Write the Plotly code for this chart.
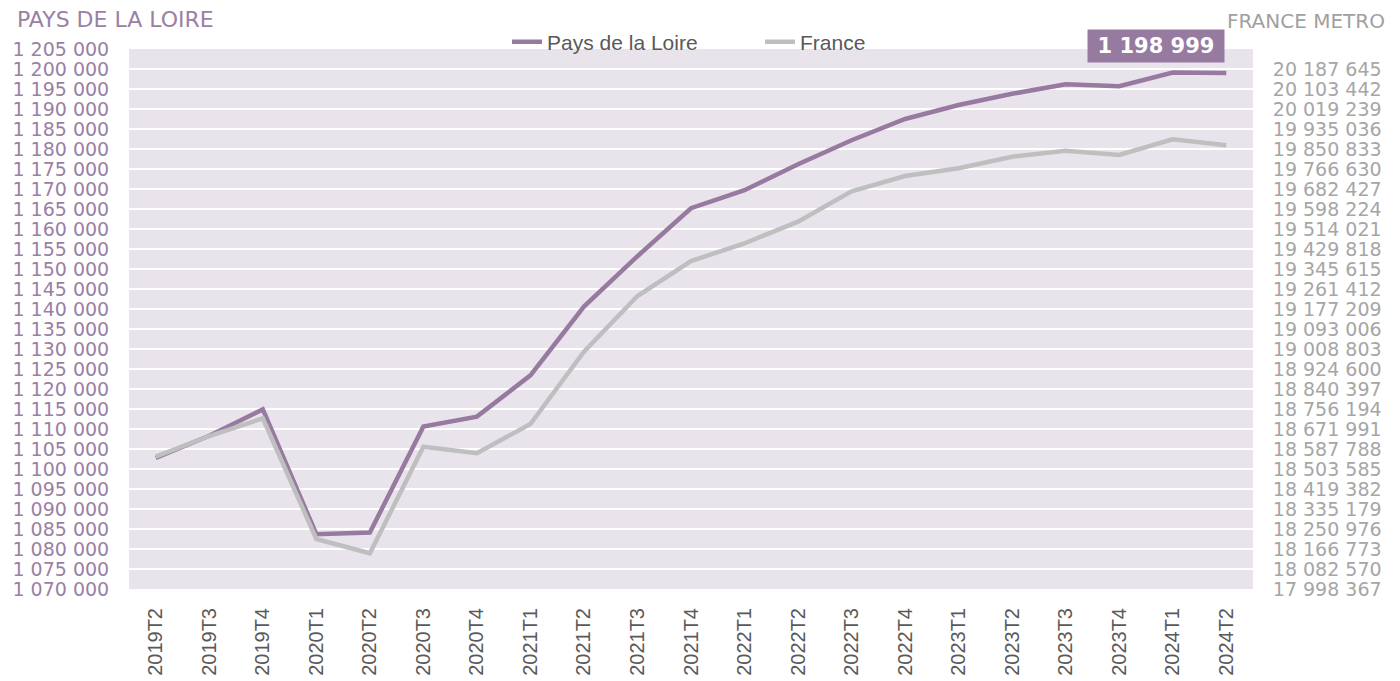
import plotly.graph_objects as go

categories = ["2019T2", "2019T3", "2019T4", "2020T1", "2020T2", "2020T3", "2020T4",
              "2021T1", "2021T2", "2021T3", "2021T4", "2022T1", "2022T2", "2022T3",
              "2022T4", "2023T1", "2023T2", "2023T3", "2023T4", "2024T1", "2024T2"]

pays_de_la_loire = [1102800, 1108300, 1114900, 1083700, 1084100, 1110600, 1113100,
                    1123400, 1140600, 1153200, 1165200, 1169700, 1176200, 1182200,
                    1187500, 1191000, 1193800, 1196200, 1195700, 1199100, 1198999]

france_metro = [18555400, 18642500, 18717000, 18208900, 18148700, 18597500, 18569700,
                18693000, 18997400, 19231900, 19379300, 19453800, 19544800, 19672500,
                19737200, 19769600, 19818400, 19843700, 19825600, 19891700, 19866400]

left_ticks = list(range(1070000, 1205001, 5000))
right_start = 17998367
right_step = 84203
right_ticks = [right_start + k * right_step for k in range(27)]
right_max = right_start + 27 * right_step

last_label = "1 198 999"


def fmt(v):
    return f"{v:,}".replace(",", " ")


PURPLE = "#977aa0"
GRAY = "#bfbfbf"

fig = go.Figure()
fig.add_trace(go.Scatter(
    x=categories, y=pays_de_la_loire, name="Pays de la Loire", mode="lines",
    line=dict(color=PURPLE, width=4.5), yaxis="y"))
fig.add_trace(go.Scatter(
    x=categories, y=france_metro, name="France", mode="lines",
    line=dict(color=GRAY, width=4.5), yaxis="y2"))

# the page body adds an 8px offset, so the figure is 8px smaller on each side
fig.update_layout(
    width=1392, height=673,
    margin=dict(l=121, r=147, t=41, b=92),
    paper_bgcolor="white",
    plot_bgcolor="#e9e4ec",
    showlegend=True,
    legend=dict(orientation="h", x=0.3363, xanchor="left", y=1.013, yanchor="middle",
                font=dict(family="Liberation Sans, Arial, sans-serif", size=21, color="#595959"),
                bgcolor="rgba(0,0,0,0)", entrywidth=208, borderwidth=0),
    xaxis=dict(type="category", range=[-0.5, 20.5], tickangle=-90, automargin=False,
               showgrid=False, showline=False, zeroline=False,
               ticks="outside", ticklen=10, tickcolor="rgba(0,0,0,0)",
               tickfont=dict(family="Liberation Sans, Arial, sans-serif", size=20, color="#595959")),
    yaxis=dict(range=[1070000, 1205000], tickvals=left_ticks, automargin=False,
               ticktext=[fmt(v) for v in left_ticks],
               showgrid=True, gridcolor="white", gridwidth=2, zeroline=False, showline=False,
               ticks="outside", ticklen=15, tickcolor="rgba(0,0,0,0)",
               tickfont=dict(family="DejaVu Sans, Verdana, sans-serif", size=19, color="#9b80a5")),
    yaxis2=dict(range=[right_start, right_max], overlaying="y", side="right", automargin=False,
                tickvals=right_ticks, ticktext=[fmt(v) for v in right_ticks],
                showgrid=False, zeroline=False, showline=False,
                ticks="outside", ticklen=15, tickcolor="rgba(0,0,0,0)",
                tickfont=dict(family="DejaVu Sans, Verdana, sans-serif", size=19, color="#a6a6a6")),
)

fig.add_annotation(xref="paper", yref="paper", x=-0.1014, y=1.0546, xanchor="left", yanchor="middle",
                   text="PAYS DE LA LOIRE", showarrow=False,
                   font=dict(family="DejaVu Sans, Verdana, sans-serif", size=22, color="#9b80a5"))
fig.add_annotation(xref="paper", yref="paper", x=1.119, y=1.0519, xanchor="right", yanchor="middle",
                   text="FRANCE METRO", showarrow=False,
                   font=dict(family="DejaVu Sans, Verdana, sans-serif", size=20, color="#a0a0a0"))
fig.add_annotation(xref="x", yref="y", x=categories[-1], y=pays_de_la_loire[-1],
                   xanchor="right", yanchor="bottom", yshift=10, xshift=-1,
                   width=134, height=30, align="center", valign="middle",
                   text="<b>" + last_label + "</b>", showarrow=False, bgcolor=PURPLE, borderpad=1,
                   font=dict(family="DejaVu Sans, Verdana, sans-serif", size=21, color="white"))

fig.write_html("out.html")
